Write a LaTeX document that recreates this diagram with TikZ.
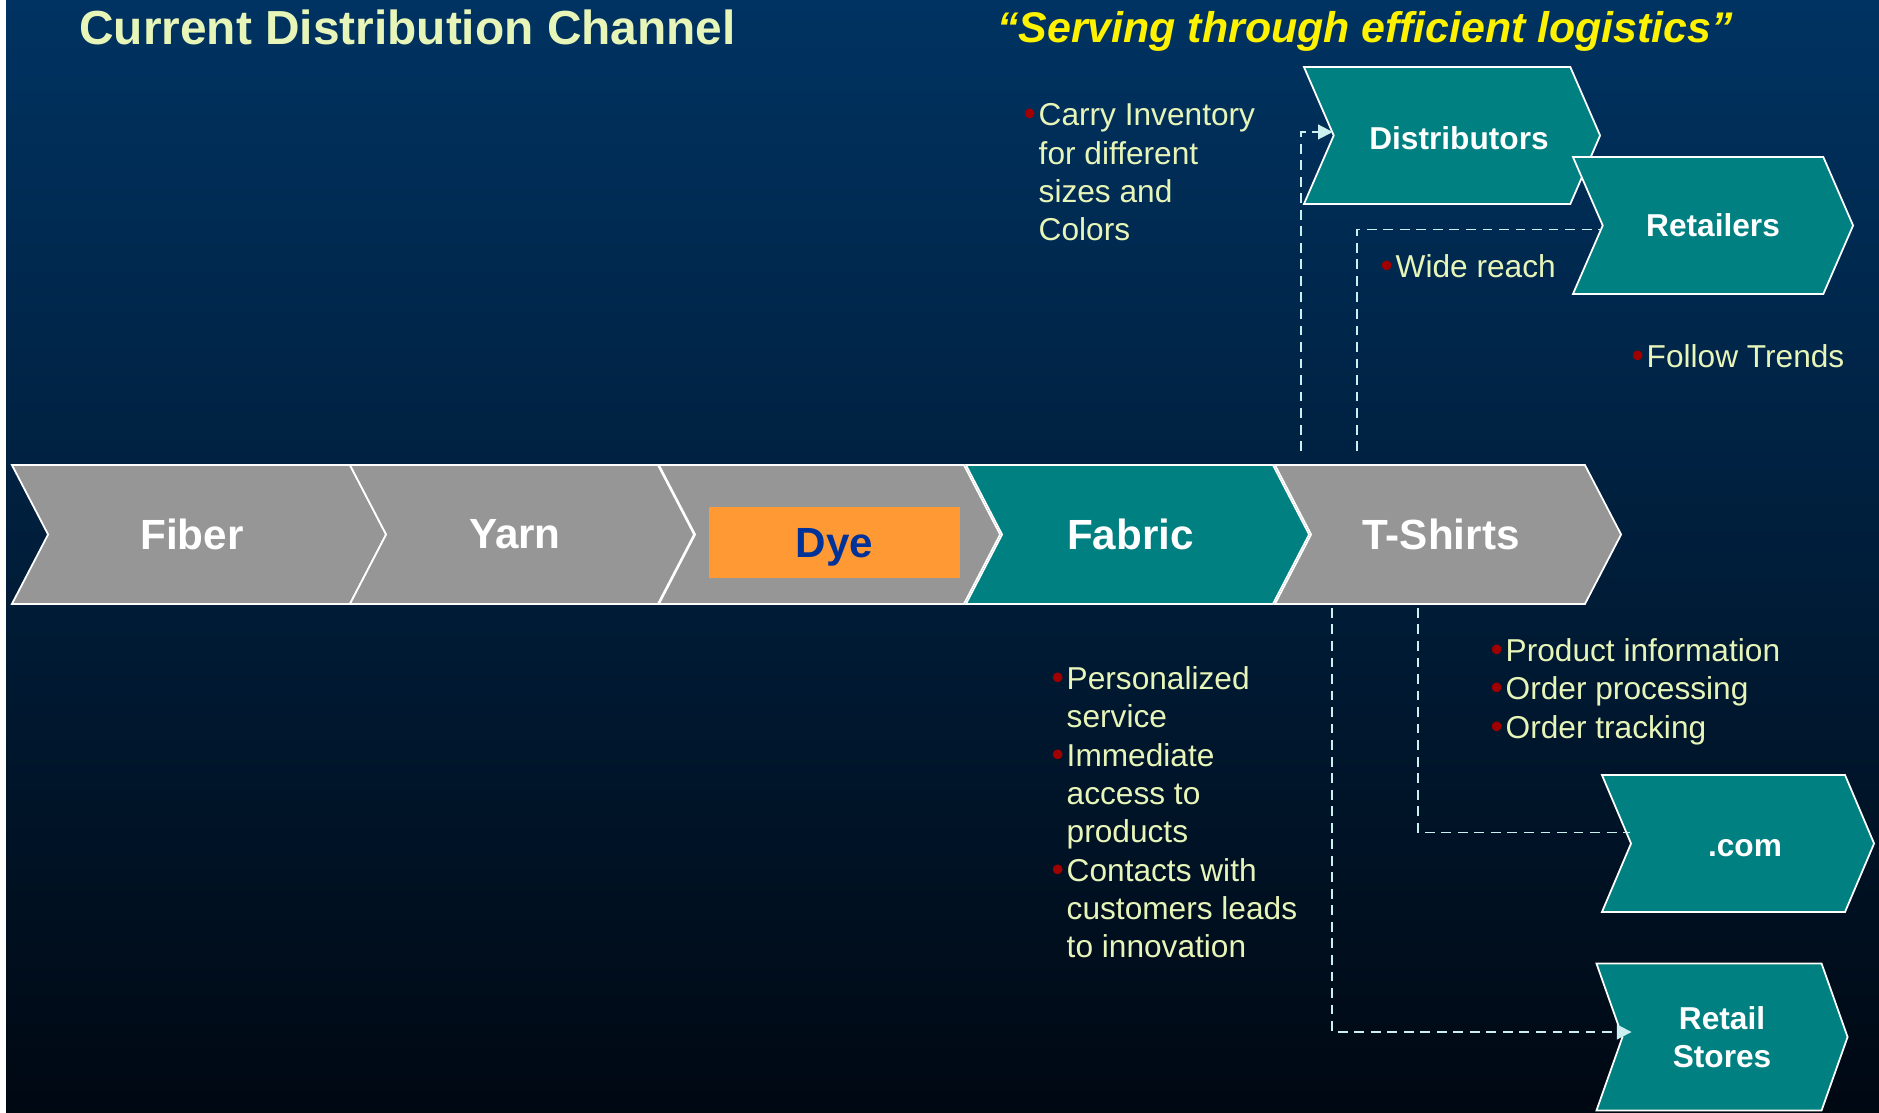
\documentclass[tikz,border=0pt]{standalone}
\usepackage{fontspec}
\setmainfont{Liberation Sans}
\usetikzlibrary{shapes.symbols,arrows.meta,calc}

\definecolor{bgtop}{RGB}{0,51,98}
\definecolor{bgmid}{RGB}{0,33,66}
\definecolor{bgbot}{RGB}{0,8,18}
\definecolor{tealc}{RGB}{0,128,128}
\definecolor{greyc}{RGB}{150,150,150}
\definecolor{dyeorange}{RGB}{255,153,51}
\definecolor{dyeblue}{RGB}{0,51,153}
\definecolor{paletext}{RGB}{232,245,184}
\definecolor{bulred}{RGB}{160,0,0}
\definecolor{linkcyan}{RGB}{204,240,240}

\newcommand\bul{\llap{\textcolor{bulred}{\fontsize{10}{10}\selectfont\textbullet}\hspace{0.8pt}}}

\begin{document}
\begin{tikzpicture}[x=0.01cm,y=-0.01cm]
          \useasboundingbox (0,0) rectangle (1879,1113);
          \fill[white] (0,0) rectangle (6,1113);
          \shade[top color=bgtop,middle color=bgmid,bottom color=bgbot] (6,0) rectangle (1879,1113);

          \tikzset{chev/.style={signal,signal from=west,signal to=east,draw=white,line width=0.5pt,
                     inner sep=0pt,text=white,font=\fontsize{12}{14}\selectfont\bfseries},
                   mainstep/.style={chev,minimum height=1.39cm,signal pointer angle=125,
                     execute at end node={\kern0.14cm}},
                   sidestep/.style={chev,fill=tealc,minimum height=1.37cm,signal pointer angle=133,
                     align=center,font=\fontsize{9}{10.9}\selectfont\bfseries},
                   note/.style={anchor=north west,inner sep=0pt,align=left,text=paletext,
                     font=\fontsize{9}{10.9}\selectfont},
                   link/.style={draw=linkcyan,line width=0.55pt,dash pattern=on 2.8pt off 1.9pt},
                   linkarrow/.style={link,-{Triangle[length=4.2pt,width=4.2pt,fill=linkcyan]}}};

          \node[anchor=west,text=paletext,font=\fontsize{13.6}{16}\selectfont\bfseries] (title) at (67,27) {Current Distribution Channel};
          \node[text=yellow,font=\fontsize{12.2}{14}\selectfont\bfseries\itshape] (motto) at (1365,31) {“Serving through efficient logistics”};

          % main chain
          \node[mainstep,fill=greyc,minimum width=3.74cm] (fiber) at (199,534.5) {Fiber};
          \node[mainstep,fill=greyc,minimum width=3.44cm] (yarn) at (522,534.5) {Yarn};
          \node[mainstep,fill=greyc,minimum width=3.41cm] (dyestep) at (829.5,534.5) {};
          \node[mainstep,fill=tealc,minimum width=3.43cm] (fabric) at (1137.5,534.5) {Fabric};
          \node[mainstep,fill=greyc,minimum width=3.46cm] (tshirts) at (1448,534.5) {T-Shirts};
          \node[fill=dyeorange,minimum width=2.51cm,minimum height=0.71cm,inner sep=0pt,text height=11.3pt,text depth=2.5pt,
                text=dyeblue,font=\fontsize{12}{14}\selectfont\bfseries] (dye) at (834.5,542.5) {Dye};

          % channels
          \node[sidestep,minimum width=2.96cm,text height=8pt,text depth=0pt] (distributors) at (1452,135.5) {\kern0.14cm Distributors};
          \node[sidestep,minimum width=2.80cm] (retailers) at (1713,225.5) {Retailers};
          \node[sidestep,minimum width=2.72cm,signal pointer angle=134,text height=7.4pt,text depth=0pt] (com) at (1738,843.5) {\kern0.14cm.com};
          \node[sidestep,minimum width=2.51cm,minimum height=1.47cm,signal pointer angle=141] (stores) at (1722,1037) {Retail\\Stores};

          \draw[linkarrow] ($(tshirts.north)+(-147,-13)$) |- ([yshift=0.035cm]distributors.west);
          \draw[link] ($(tshirts.north)+(-91,-13)$) |- ([yshift=-0.04cm]retailers.west);
          \draw[link] ($(tshirts.south)+(-30,3)$) |- ([yshift=0.11cm]com.west);
          \draw[linkarrow,shorten >=-0.1cm] ($(tshirts.south)+(-116,3)$) |- ([yshift=0.05cm]stores.west);

          \node[note] (carry) at (1038,103) {\bul Carry Inventory\\for different\\sizes and\\Colors};
          \node[note] (reach) at (1395,254) {\bul Wide reach};
          \node[note] (trends) at (1646,344) {\bul Follow Trends};
          \node[note] (online) at (1505,638) {\bul Product information\\\bul Order processing\\\bul Order tracking};
          \node[note] (service) at (1066,666) {\bul Personalized\\service\\\bul Immediate\\access to\\products\\\bul Contacts with\\customers leads\\to innovation};
        \end{tikzpicture}
\end{document}
